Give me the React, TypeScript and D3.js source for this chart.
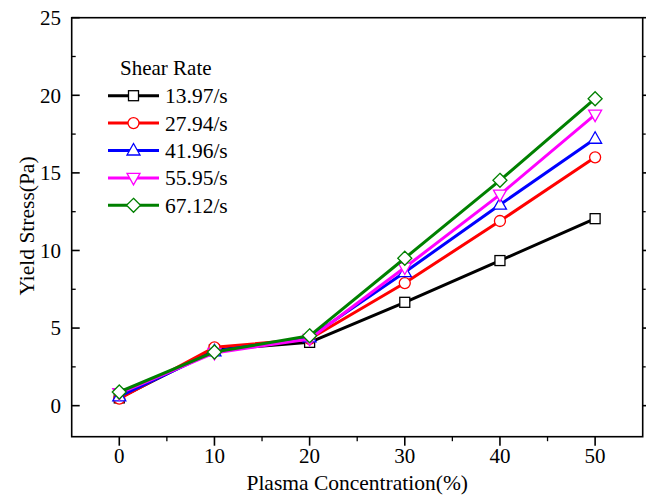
import React from "react";
import * as d3 from "d3";

const concentrations = [0, 10, 20, 30, 40, 50];
const seriesNames = ["13.97/s", "27.94/s", "41.96/s", "55.95/s", "67.12/s"];
const s1397 = [0.5, 3.6, 4.08, 6.66, 9.35, 12.05];
const s2794 = [0.45, 3.76, 4.3, 7.9, 11.9, 16.0];
const s4196 = [0.6, 3.5, 4.4, 8.6, 12.95, 17.2];
const s5595 = [0.8, 3.4, 4.3, 8.9, 13.6, 18.75];
const s6712 = [0.88, 3.46, 4.5, 9.5, 14.52, 19.78];
const seriesColors = ["#000000", "#ff0000", "#0000ff", "#ff00ff", "#008000"];
const seriesShapes = ["square", "circle", "triangle", "triangleDown", "diamond"];
const xTicks = [0, 10, 20, 30, 40, 50];
const yTicks = [0, 5, 10, 15, 20, 25];

const allSeries = [s1397, s2794, s4196, s5595, s6712];

const W = 646, H = 499;
const L = 71.7, R = 642.7, T = 17.7, B = 436.7;
const FONT = "'Liberation Serif', 'Times New Roman', serif";

function Marker({ shape, x, y, color }: { shape: string; x: number; y: number; color: string }) {
  const sw = 1.3;
  if (shape === "square") return <rect x={x - 5} y={y - 5} width={10} height={10} fill="#fff" stroke={color} strokeWidth={sw} />;
  if (shape === "circle") return <circle cx={x} cy={y} r={5.5} fill="#fff" stroke={color} strokeWidth={sw} />;
  if (shape === "triangle") return <path d={`M${x},${y - 7} L${x + 6.5},${y + 4.5} L${x - 6.5},${y + 4.5} Z`} fill="#fff" stroke={color} strokeWidth={sw} />;
  if (shape === "triangleDown") return <path d={`M${x},${y + 7} L${x + 6.5},${y - 4.5} L${x - 6.5},${y - 4.5} Z`} fill="#fff" stroke={color} strokeWidth={sw} />;
  return <path d={`M${x},${y - 7} L${x + 7},${y} L${x},${y + 7} L${x - 7},${y} Z`} fill="#fff" stroke={color} strokeWidth={sw} />;
}

export default function App() {
  const x = d3.scaleLinear().domain([-5, 55]).range([L, R]);
  const y = d3.scaleLinear().domain([-2, 25]).range([B, T]);
  const line = d3.line<number>().x((_, i) => x(concentrations[i])).y((d) => y(d));
  const xMinor = d3.range(-5, 56, 5).filter((v) => !xTicks.includes(v) && v > -5 && v < 55);
  const yMinor = d3.range(-2.5, 25.1, 2.5).filter((v) => !yTicks.includes(v) && v > -2 && v < 25);

  return (
    <svg width={W} height={H} style={{ position: "absolute", left: 0, top: 0, background: "#fff" }} fontFamily={FONT}>
      {/* frame */}
      <rect x={L} y={T} width={R - L} height={B - T} fill="none" stroke="#000" strokeWidth={1.6} />
      {/* x ticks */}
      {xTicks.map((v) => (
        <g key={"xt" + v}>
          <line x1={x(v)} x2={x(v)} y1={B} y2={B + 9} stroke="#000" strokeWidth={1.6} />
          <text x={x(v)} y={463} textAnchor="middle" fontSize={21}>{v}</text>
        </g>
      ))}
      {xMinor.map((v) => (
        <line key={"xm" + v} x1={x(v)} x2={x(v)} y1={B} y2={B + 4.5} stroke="#000" strokeWidth={1.3} />
      ))}
      {/* y ticks */}
      {yTicks.map((v) => (
        <g key={"yt" + v}>
          <line x1={L} x2={L + 8} y1={y(v)} y2={y(v)} stroke="#000" strokeWidth={1.6} />
          <line x1={R} x2={R + 6} y1={y(v)} y2={y(v)} stroke="#000" strokeWidth={1.6} />
          <text x={61} y={y(v)} dy="0.35em" textAnchor="end" fontSize={21}>{v}</text>
        </g>
      ))}
      {yMinor.map((v) => (
        <g key={"ym" + v}>
          <line x1={L} x2={L + 4} y1={y(v)} y2={y(v)} stroke="#000" strokeWidth={1.3} />
          <line x1={R} x2={R + 3} y1={y(v)} y2={y(v)} stroke="#000" strokeWidth={1.3} />
        </g>
      ))}
      {/* axis titles */}
      <text x={(L + R) / 2} y={490} textAnchor="middle" fontSize={21.5}>Plasma Concentration(%)</text>
      <text transform={`translate(34,${226}) rotate(-90)`} textAnchor="middle" fontSize={21.5}>Yield Stress(Pa)</text>
      {/* series */}
      {allSeries.map((s, si) => (
        <g key={"s" + si}>
          <path d={line(s) || ""} fill="none" stroke={seriesColors[si]} strokeWidth={3} strokeLinejoin="round" />
          {s.map((v, i) => (
            <Marker key={i} shape={seriesShapes[si]} x={x(concentrations[i])} y={y(v)} color={seriesColors[si]} />
          ))}
        </g>
      ))}
      {/* legend */}
      <text x={120} y={75} fontSize={21}>Shear Rate</text>
      {seriesNames.map((n, i) => {
        const cy = 95.7 + i * 27.4;
        return (
          <g key={"lg" + i}>
            <line x1={108} x2={159} y1={cy} y2={cy} stroke={seriesColors[i]} strokeWidth={3} />
            <Marker shape={seriesShapes[i]} x={133.5} y={cy} color={seriesColors[i]} />
            <text x={165} y={cy + 7.5} fontSize={21.5}>{n}</text>
          </g>
        );
      })}
    </svg>
  );
}
